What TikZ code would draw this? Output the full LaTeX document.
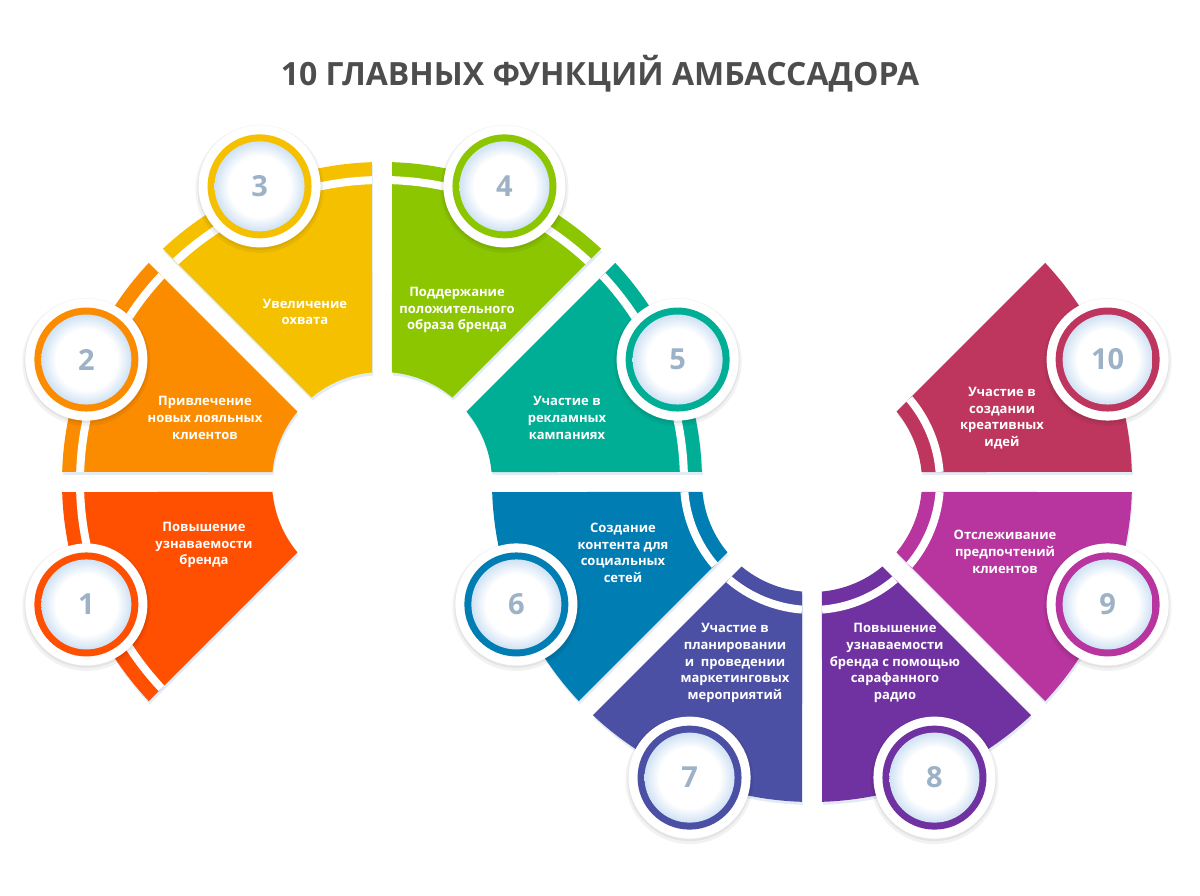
\documentclass[tikz,border=0pt]{standalone}
\usepackage{fontspec}
\setmainfont{Open Sans}
\usetikzlibrary{calc}

\definecolor{cUno}{HTML}{FF4F00}
\definecolor{cDos}{HTML}{FB8C00}
\definecolor{cTres}{HTML}{F5C000}
\definecolor{cCuatro}{HTML}{8CC600}
\definecolor{cCinco}{HTML}{00AE95}
\definecolor{cSeis}{HTML}{007DB2}
\definecolor{cSiete}{HTML}{4B50A4}
\definecolor{cOcho}{HTML}{7132A1}
\definecolor{cNueve}{HTML}{B8349F}
\definecolor{cDiez}{HTML}{BE365E}
\definecolor{cNum}{HTML}{9DB2C6}
\definecolor{cBorde}{HTML}{D0E2F4}
\definecolor{cSombra}{HTML}{E2EBF4}
\definecolor{cTitulo}{HTML}{4D4D4D}

\pgfdeclareradialshading{disco}{\pgfpoint{0bp}{0bp}}{color(0bp)=(white); color(17bp)=(white); color(25bp)=(cBorde); color(50bp)=(cBorde)}

% segmento de anillo: desde, hasta, opciones
\newcommand{\segmento}[3]{%
  \fill[#3] (#1+1.8:320) arc[start angle=#1+1.8, end angle=#2-1.8, radius=320]
    -- (#2-5.2:110) arc[start angle=#2-5.2, end angle=#1+5.2, radius=110] -- cycle;}
% franja blanca: desde, hasta, radio, delta
\newcommand{\franja}[4]{%
  \draw[white,line width=8pt] (#1+#4:#3) arc[start angle=#1+#4, end angle=#2-#4, radius=#3];}
% circulo numerado: nombre, angulo, color, numero
\newcommand{\circulo}[4]{%
  \fill[black,opacity=.05,yshift=-2.5pt] (#2:320) circle (64);
  \fill[black,opacity=.06,yshift=-1.5pt] (#2:320) circle (62);
  \fill[white] (#2:320) circle (61);
  \fill[#3] (#2:320) circle (52);
  \shade[shading=disco] (#2:320) circle (45);
  \node[num] (#1) at (#2:320) {#4};}

\begin{document}
\begin{tikzpicture}[x=1pt,y=1pt,
  txt/.style={text=white,align=center,font=\fontsize{13}{16.7}\selectfont\bfseries},
  num/.style={text=cNum,font=\fontsize{29}{30}\selectfont\bfseries}]
  \useasboundingbox (0,0) rectangle (1200,896);
  % titulo
  \node[text=cTitulo,font=\fontsize{32}{36}\selectfont\bfseries] (titulo) at (600,822)
    {10 ГЛАВНЫХ ФУНКЦИЙ АМБАССАДОРА};
  % primer semicirculo (1-5)
  \begin{scope}[shift={(382,414)}]
    \segmento{180}{225}{cSombra,xshift=1pt,yshift=-3pt}
    \segmento{135}{180}{cSombra,xshift=1pt,yshift=-3pt}
    \segmento{90}{135}{cSombra,xshift=1pt,yshift=-3pt}
    \segmento{45}{90}{cSombra,xshift=1pt,yshift=-3pt}
    \segmento{0}{45}{cSombra,xshift=1pt,yshift=-3pt}
    \segmento{180}{225}{cUno}
    \segmento{135}{180}{cDos}
    \segmento{90}{135}{cTres}
    \segmento{45}{90}{cCuatro}
    \segmento{0}{45}{cCinco}
    \franja{180}{225}{302}{1.9} \franja{135}{180}{302}{1.9} \franja{90}{135}{302}{1.9}
    \franja{45}{90}{302}{1.9} \franja{0}{45}{302}{1.9}
  \end{scope}
  % segundo semicirculo (6-10)
  \begin{scope}[shift={(812,414)}]
    \segmento{180}{225}{cSombra,xshift=1pt,yshift=-3pt}
    \segmento{225}{270}{cSombra,xshift=1pt,yshift=-3pt}
    \segmento{270}{315}{cSombra,xshift=1pt,yshift=-3pt}
    \segmento{315}{360}{cSombra,xshift=1pt,yshift=-3pt}
    \segmento{0}{45}{cSombra,xshift=1pt,yshift=-3pt}
    \segmento{180}{225}{cSeis}
    \segmento{225}{270}{cSiete}
    \segmento{270}{315}{cOcho}
    \segmento{315}{360}{cNueve}
    \segmento{0}{45}{cDiez}
    \franja{180}{225}{128}{4.5} \franja{225}{270}{128}{4.5} \franja{270}{315}{128}{4.5}
    \franja{315}{360}{128}{4.5} \franja{0}{45}{128}{4.5}
  \end{scope}
  % circulos numerados
  \begin{scope}[shift={(382,414)}]
    \circulo{n1}{202.5}{cUno}{1}
    \circulo{n2}{157.5}{cDos}{2}
    \circulo{n3}{112.5}{cTres}{3}
    \circulo{n4}{67.5}{cCuatro}{4}
    \circulo{n5}{22.5}{cCinco}{5}
  \end{scope}
  \begin{scope}[shift={(812,414)}]
    \circulo{n6}{202.5}{cSeis}{6}
    \circulo{n7}{247.5}{cSiete}{7}
    \circulo{n8}{292.5}{cOcho}{8}
    \circulo{n9}{337.5}{cNueve}{9}
    \circulo{n10}{22.5}{cDiez}{10}
  \end{scope}
  % textos
  \node[txt] (t1) at (204,351) {Повышение\\узнаваемости\\бренда};
  \node[txt] (t2) at (205,478) {Привлечение\\новых лояльных\\клиентов};
  \node[txt] (t3) at (305,584) {Увеличение\\охвата};
  \node[txt] (t4) at (457,586) {Поддержание\\положительного\\образа бренда};
  \node[txt] (t5) at (567,478) {Участие в\\рекламных\\кампаниях};
  \node[txt] (t6) at (623,343) {Создание\\контента для\\социальных\\сетей};
  \node[txt] (t7) at (735,233) {Участие в\\планировании\\и~ проведении\\маркетинговых\\мероприятий};
  \node[txt] (t8) at (895,233) {Повышение\\узнаваемости\\бренда с помощью\\сарафанного\\радио};
  \node[txt] (t9) at (1005,344) {Отслеживание\\предпочтений\\клиентов};
  \node[txt] (t10) at (1002,478) {Участие в\\создании\\креативных\\идей};
\end{tikzpicture}
\end{document}
